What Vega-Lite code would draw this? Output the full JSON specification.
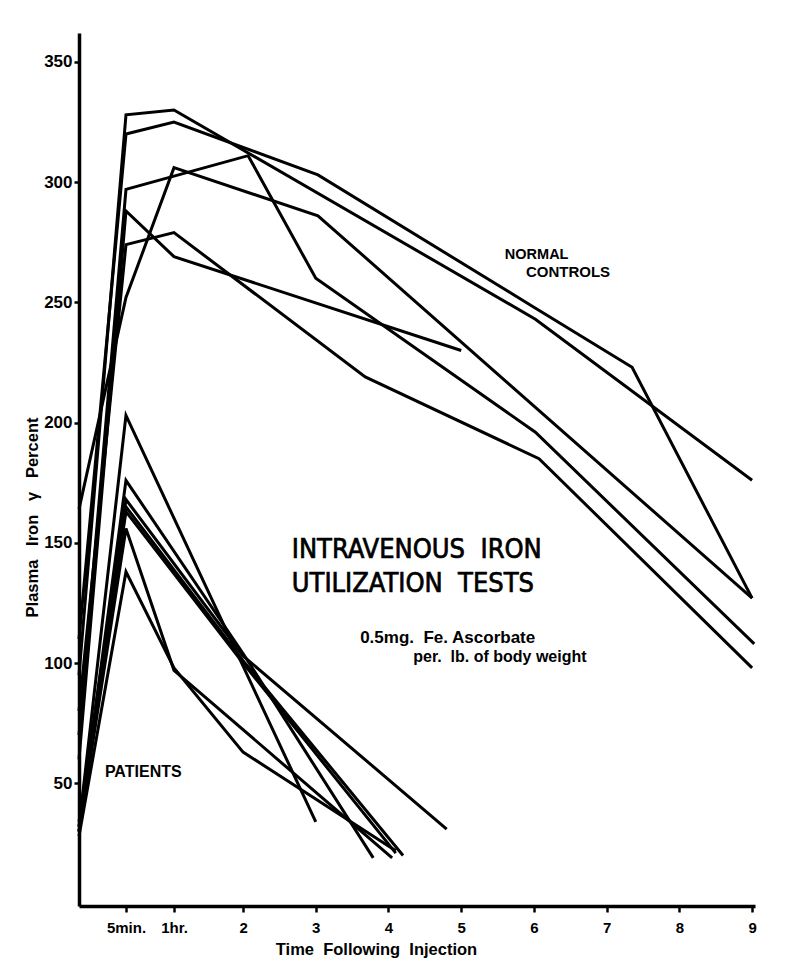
{
  "$schema": "https://vega.github.io/schema/vega-lite/v6.json",
  "width": 676,
  "height": 873,
  "autosize": {"type": "none"},
  "padding": {"left": 79, "top": 33, "right": 32, "bottom": 63},
  "background": "white",
  "config": {"view": {"stroke": null}, "font": "Liberation Sans"},
  "datasets": {
    "lines": [
      {"id": "A", "t": -0.256, "v": 95}, {"id": "A", "t": 0.39, "v": 328}, {"id": "A", "t": 1.05, "v": 330}, {"id": "A", "t": 6.02, "v": 243}, {"id": "A", "t": 9.0, "v": 176},
      {"id": "B", "t": -0.256, "v": 110}, {"id": "B", "t": 0.39, "v": 320}, {"id": "B", "t": 1.05, "v": 325}, {"id": "B", "t": 3.03, "v": 303}, {"id": "B", "t": 6.0, "v": 248}, {"id": "B", "t": 7.35, "v": 223}, {"id": "B", "t": 9.0, "v": 127},
      {"id": "C", "t": -0.256, "v": 70}, {"id": "C", "t": 0.39, "v": 297}, {"id": "C", "t": 2.07, "v": 311}, {"id": "C", "t": 3.0, "v": 260}, {"id": "C", "t": 6.02, "v": 196}, {"id": "C", "t": 9.03, "v": 108},
      {"id": "D", "t": -0.256, "v": 60}, {"id": "D", "t": 0.39, "v": 288}, {"id": "D", "t": 1.05, "v": 269}, {"id": "D", "t": 5.0, "v": 230},
      {"id": "E", "t": -0.256, "v": 80}, {"id": "E", "t": 0.39, "v": 274}, {"id": "E", "t": 1.05, "v": 279}, {"id": "E", "t": 3.68, "v": 219}, {"id": "E", "t": 6.07, "v": 185}, {"id": "E", "t": 9.0, "v": 98},
      {"id": "F", "t": -0.256, "v": 164}, {"id": "F", "t": 0.39, "v": 252}, {"id": "F", "t": 1.05, "v": 306}, {"id": "F", "t": 3.03, "v": 286}, {"id": "F", "t": 9.0, "v": 127},
      {"id": "P1", "t": -0.256, "v": 32}, {"id": "P1", "t": 0.39, "v": 203}, {"id": "P1", "t": 3.0, "v": 34},
      {"id": "P2", "t": -0.256, "v": 30}, {"id": "P2", "t": 0.39, "v": 176}, {"id": "P2", "t": 2.0, "v": 104}, {"id": "P2", "t": 3.79, "v": 19},
      {"id": "P3", "t": -0.256, "v": 34}, {"id": "P3", "t": 0.39, "v": 168}, {"id": "P3", "t": 2.0, "v": 103}, {"id": "P3", "t": 4.8, "v": 31},
      {"id": "P4", "t": -0.256, "v": 30}, {"id": "P4", "t": 0.39, "v": 165}, {"id": "P4", "t": 2.0, "v": 101}, {"id": "P4", "t": 4.2, "v": 20},
      {"id": "P5", "t": -0.256, "v": 32}, {"id": "P5", "t": 0.39, "v": 163}, {"id": "P5", "t": 2.0, "v": 100}, {"id": "P5", "t": 4.1, "v": 21},
      {"id": "P6", "t": -0.256, "v": 30}, {"id": "P6", "t": 0.39, "v": 156}, {"id": "P6", "t": 1.05, "v": 97}, {"id": "P6", "t": 4.05, "v": 19},
      {"id": "P7", "t": -0.256, "v": 28}, {"id": "P7", "t": 0.39, "v": 138}, {"id": "P7", "t": 1.05, "v": 98}, {"id": "P7", "t": 2.0, "v": 63}, {"id": "P7", "t": 4.1, "v": 22}
    ],
    "smallLabels": [
      {"t": 5.6, "v": 269.8, "text": "NORMAL", "size": 14.5},
      {"t": 5.89, "v": 262.7, "text": "CONTROLS", "size": 15},
      {"t": 3.61, "v": 110.6, "text": "0.5mg.\u00a0\u00a0Fe. Ascorbate", "size": 17},
      {"t": 4.34, "v": 102.7, "text": "per.\u00a0\u00a0lb.\u00a0of\u00a0body\u00a0weight", "size": 16},
      {"t": 0.1, "v": 54.8, "text": "PATIENTS", "size": 16}
    ],
    "bigLabels": [
      {"t": 2.67, "v": 146.9, "text": "INTRAVENOUS\u00a0\u00a0IRON"},
      {"t": 2.67, "v": 132.7, "text": "UTILIZATION\u00a0\u00a0TESTS"}
    ]
  },
  "layer": [
    {
      "data": {"name": "lines"},
      "mark": {"type": "line", "color": "black", "strokeWidth": 3, "strokeJoin": "miter", "clip": false},
      "encoding": {
        "x": {
          "field": "t", "type": "quantitative",
          "scale": {"domain": [-0.256, 9.04], "nice": false, "zero": false},
          "axis": {
            "values": [0.39, 1.05, 2, 3, 4, 5, 6, 7, 8, 9],
            "labelExpr": "datum.value < 0.5 ? '5min.' : datum.value < 1.5 ? '1hr.' : format(datum.value, 'd')",
            "title": "Time\u00a0\u00a0Following\u00a0\u00a0Injection",
            "titleX": 297, "titleY": 48, "titleAnchor": "middle", "titleBaseline": "alphabetic",
            "titleFontSize": 16.5, "titleFontWeight": "bold", "titleColor": "black",
            "labelFontSize": 15, "labelFontWeight": "bold", "labelColor": "black", "labelPadding": 8,
            "domainColor": "black", "domainWidth": 3.5, "tickColor": "black", "tickWidth": 2.5, "tickSize": 6,
            "grid": false
          }
        },
        "y": {
          "field": "v", "type": "quantitative",
          "scale": {"domain": [-1, 362], "nice": false, "zero": false},
          "axis": {
            "values": [50, 100, 150, 200, 250, 300, 350],
            "title": "Plasma\u00a0\u00a0\u00a0Iron\u00a0\u00a0\u00a0γ\u00a0\u00a0\u00a0Percent",
            "titleX": -47, "titleY": 484, "titleAnchor": "middle", "titleAngle": -90, "titleBaseline": "middle",
            "titleFontSize": 16.5, "titleFontWeight": "bold", "titleColor": "black",
            "labelFontSize": 17, "labelFontWeight": "bold", "labelColor": "black", "labelPadding": 2,
            "domainColor": "black", "domainWidth": 3.5, "tickColor": "black", "tickWidth": 2.5, "tickSize": 5,
            "grid": false
          }
        },
        "detail": {"field": "id"}
      }
    },
    {
      "data": {"name": "smallLabels"},
      "mark": {"type": "text", "align": "left", "baseline": "middle", "fontWeight": "bold", "color": "black", "font": "Liberation Sans"},
      "encoding": {
        "x": {"field": "t", "type": "quantitative"},
        "y": {"field": "v", "type": "quantitative"},
        "text": {"field": "text"},
        "size": {"field": "size", "type": "quantitative", "scale": null}
      }
    },
    {
      "data": {"name": "bigLabels"},
      "mark": {"type": "text", "align": "left", "baseline": "middle", "fontWeight": "normal", "color": "black", "stroke": "black", "strokeWidth": 0.7, "font": "DejaVu Sans Condensed", "fontSize": 27},
      "encoding": {
        "x": {"field": "t", "type": "quantitative"},
        "y": {"field": "v", "type": "quantitative"},
        "text": {"field": "text"}
      }
    }
  ]
}
